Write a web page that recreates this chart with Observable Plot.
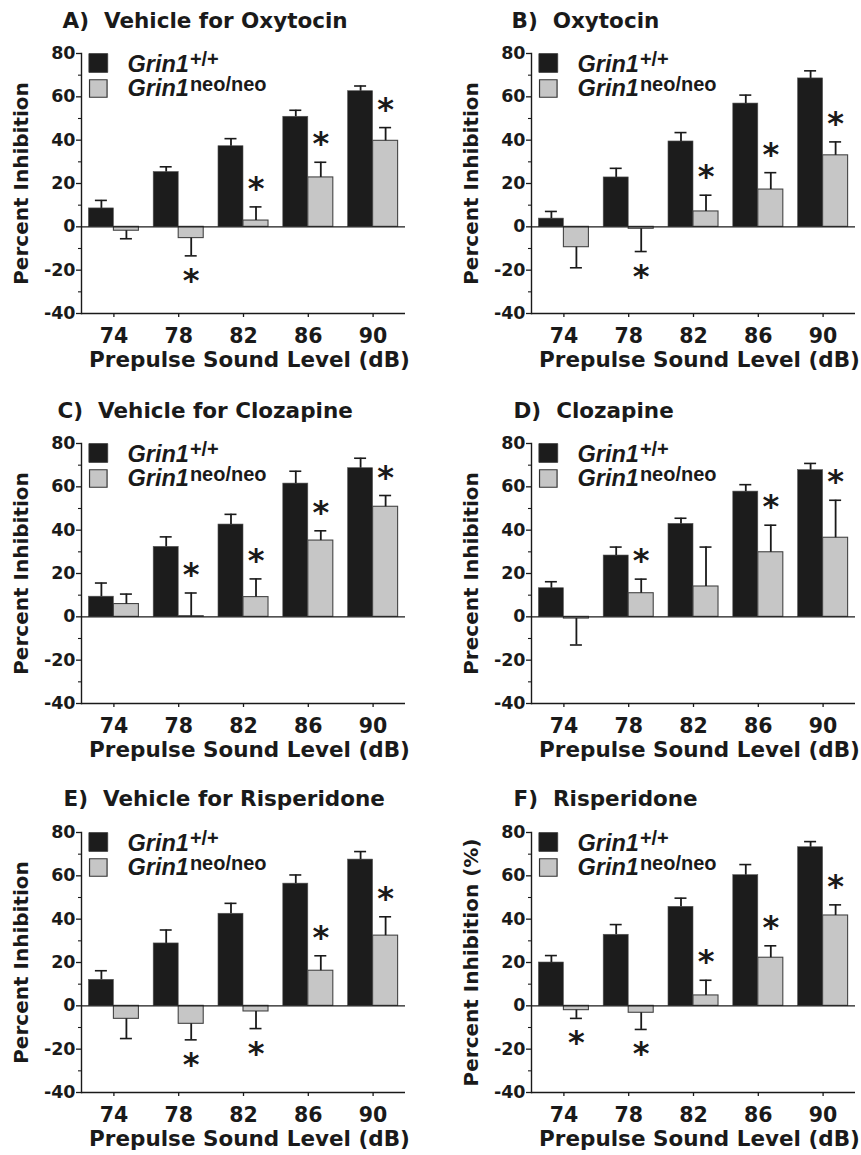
<!DOCTYPE html>
<html><head><meta charset="utf-8">
<script src="https://cdn.jsdelivr.net/npm/d3@7"></script>
<script src="https://cdn.jsdelivr.net/npm/@observablehq/plot@0.6"></script>
<style>
body{margin:0;background:#fff;}
#root{position:relative;width:861px;height:1155px;overflow:hidden;}
.panel{position:absolute;}
</style></head><body><div id="root"></div>
<script>
// ---------- data ----------
const levels = ["74", "78", "82", "86", "90"];
const panelTitles = ["A)\u00a0 Vehicle for Oxytocin", "B)\u00a0 Oxytocin", "C)\u00a0 Vehicle for Clozapine",
  "D)\u00a0 Clozapine", "E)\u00a0 Vehicle for Risperidone", "F)\u00a0 Risperidone"];
const yLabels = ["Percent Inhibition", "Percent Inhibition", "Percent Inhibition",
  "Precent Inhibition", "Percent Inhibition", "Percent Inhibition (%)"];
const xLabel = "Prepulse Sound Level (dB)";
const yTicks = [-40, -20, 0, 20, 40, 60, 80];
const yMinorTicks = [-30, -10, 10, 30, 50, 70];
const seriesBase = "Grin1";
const seriesSup = ["+/+", "neo/neo"];

// Grin1+/+ means and SEM; Grin1neo/neo means and SEM; significance stars (1 above, -1 below, 0 none)
const wtA = [8.5, 25.3, 37.2, 50.8, 62.6];
const wtErrA = [3.7, 2.4, 3.5, 3.0, 2.4];
const neoA = [-1.8, -5.2, 2.9, 22.8, 39.7];
const neoErrA = [3.7, 8.2, 6.3, 7.0, 6.1];
const starsA = [0, -1, 1, 1, 1];

const wtB = [3.8, 22.8, 39.4, 56.9, 68.5];
const wtErrB = [3.3, 4.2, 4.1, 3.9, 3.5];
const neoB = [-9.4, -0.9, 7.1, 17.2, 33.0];
const neoErrB = [9.5, 10.5, 7.5, 7.8, 6.2];
const starsB = [0, -1, 1, 1, 1];

const wtC = [9.3, 32.3, 42.6, 61.5, 68.6];
const wtErrC = [6.3, 4.6, 4.7, 5.7, 4.6];
const neoC = [5.9, 0.3, 9.1, 35.2, 50.8];
const neoErrC = [4.6, 10.7, 8.4, 4.5, 5.2];
const starsC = [0, 1, 1, 1, 1];

const wtD = [13.2, 28.3, 42.9, 57.8, 67.7];
const wtErrD = [3.0, 3.9, 2.6, 3.2, 3.1];
const neoD = [-0.8, 10.9, 14.0, 29.8, 36.5];
const neoErrD = [12.2, 6.5, 18.2, 12.5, 17.3];
const starsD = [0, 1, 0, 1, 1];

const wtE = [12.0, 28.8, 42.5, 56.4, 67.5];
const wtErrE = [4.2, 6.2, 4.8, 4.0, 3.7];
const neoE = [-6.0, -8.3, -2.6, 16.2, 32.4];
const neoErrE = [9.1, 7.4, 7.9, 6.9, 8.7];
const starsE = [0, -1, -1, 1, 1];

const wtF = [20.0, 32.8, 45.7, 60.3, 73.2];
const wtErrF = [3.2, 4.7, 4.0, 4.9, 2.6];
const neoF = [-2.0, -3.2, 4.8, 22.2, 41.7];
const neoErrF = [3.8, 7.7, 7.0, 5.5, 4.9];
const starsF = [-1, -1, 1, 1, 1];

const panelData = [
  [wtA, wtErrA, neoA, neoErrA, starsA],
  [wtB, wtErrB, neoB, neoErrB, starsB],
  [wtC, wtErrC, neoC, neoErrC, starsC],
  [wtD, wtErrD, neoD, neoErrD, starsD],
  [wtE, wtErrE, neoE, neoErrE, starsE],
  [wtF, wtErrF, neoF, neoErrF, starsF]
];

// ---------- layout ----------
const layout = [
  {left: 0,   top: 0,   w: 430, h: 385, ml: 81,  mt: 53, tdx: -19, tdy: -26},
  {left: 430, top: 0,   w: 431, h: 385, ml: 101, mt: 53, tdx: -20, tdy: -26},
  {left: 0,   top: 385, w: 430, h: 385, ml: 81,  mt: 58, tdx: -24, tdy: -26},
  {left: 430, top: 385, w: 431, h: 385, ml: 101, mt: 58, tdx: -18, tdy: -26},
  {left: 0,   top: 770, w: 430, h: 385, ml: 81,  mt: 62, tdx: -18, tdy: -27},
  {left: 430, top: 770, w: 431, h: 385, ml: 101, mt: 62, tdx: -18, tdy: -27}
];
const frameW = 324, frameH = 260;
const padIn = 0.228, padOut = 0.114;
const step = frameW / (levels.length - padIn + 2 * padOut);
const hb = step * (1 - padIn) / 2;   // width of one bar
const capHalf = 6;
const ink = "#1a1a1a";
const legendFont = "'Liberation Sans', Arial, sans-serif";

const canvas = document.createElement("canvas");
const ctx = canvas.getContext("2d");
ctx.font = "italic bold 23.5px 'Liberation Sans'";
const baseW = ctx.measureText(seriesBase).width;

const root = document.getElementById("root");

panelData.forEach(([wt, wtErr, neo, neoErr, stars], k) => {
  const L = layout[k];
  const data = levels.map((level, i) => ({
    level, wt: wt[i], neo: neo[i],
    wtTip: wt[i] + Math.sign(wt[i] || 1) * wtErr[i],
    neoTip: neo[i] + Math.sign(neo[i] || 1) * neoErr[i],
    star: stars[i]
  }));
  const plot = Plot.plot({
    width: L.w, height: L.h,
    marginLeft: L.ml, marginTop: L.mt,
    marginRight: L.w - L.ml - frameW,
    marginBottom: L.h - L.mt - frameH,
    style: {fontFamily: "'DejaVu Sans'", fontWeight: "bold", color: ink, background: "transparent", overflow: "visible"},
    x: {type: "band", domain: levels, paddingInner: padIn, paddingOuter: padOut, round: false},
    y: {domain: [-40, 80]},
    marks: [
      Plot.barY(data, {x: "level", y: "wt", insetRight: hb, fill: "#1c1c1c", stroke: "#555", strokeWidth: 0.6}),
      Plot.barY(data, {x: "level", y: "neo", insetLeft: hb, fill: "#c6c6c6", stroke: "#444", strokeWidth: 1.1}),
      Plot.ruleX(data, {x: "level", y1: "wt", y2: "wtTip", dx: -hb / 2, stroke: ink, strokeWidth: 1.8}),
      Plot.ruleX(data, {x: "level", y1: "neo", y2: "neoTip", dx: hb / 2, stroke: ink, strokeWidth: 1.8}),
      Plot.tickY(data, {x: "level", y: "wtTip", insetLeft: hb / 2 - capHalf, insetRight: 1.5 * hb - capHalf, stroke: ink, strokeWidth: 1.6}),
      Plot.tickY(data, {x: "level", y: "neoTip", insetLeft: 1.5 * hb - capHalf, insetRight: hb / 2 - capHalf, stroke: ink, strokeWidth: 1.6}),
      Plot.ruleY([0], {stroke: ink, strokeWidth: 1.4}),
      Plot.ruleY([-40], {stroke: ink, strokeWidth: 1.4}),
      Plot.frame({anchor: "left", stroke: ink, strokeWidth: 1.4}),
      Plot.axisY({ticks: yTicks, tickSize: 5, tickPadding: 1, fontSize: 17.5, label: null, tickFormat: d => `${d}`, stroke: ink, strokeWidth: 1.3}),
      Plot.axisY({ticks: yMinorTicks, tickSize: 3, tickPadding: 1, label: null, tickFormat: () => "", stroke: ink, strokeWidth: 1.1}),
      Plot.axisX({tickSize: 4, tickPadding: 11, fontSize: 20.5, label: null, stroke: ink, strokeWidth: 1.3}),
      Plot.text([xLabel], {frameAnchor: "bottom", lineAnchor: "bottom", dx: 6, dy: 53, fontSize: 21.5, fill: ink}),
      Plot.text([yLabels[k]], {frameAnchor: "left", rotate: -90, lineAnchor: "top", textAnchor: "middle", dx: -68, fontSize: 20, fill: ink}),
      Plot.text([panelTitles[k]], {frameAnchor: "top-left", textAnchor: "start", lineAnchor: "bottom", dx: L.tdx, dy: L.tdy, fontSize: 21.5, fill: ink}),
      // significance stars
      Plot.text(data.filter(d => d.star === 1), {x: "level", y: "neoTip", text: () => "*", dx: hb / 2, dy: -8, lineAnchor: "bottom", fontSize: 32, fill: ink}),
      Plot.text(data.filter(d => d.star === -1), {x: "level", y: "neoTip", text: () => "*", dx: hb / 2, dy: 35, lineAnchor: "bottom", fontSize: 32, fill: ink}),
      // legend
      Plot.dot([seriesSup[0]], {frameAnchor: "top-left", dx: 16.8, dy: 9.5, symbol: "square", r: 10.6, fill: "#1c1c1c", stroke: "#333", strokeWidth: 0.8}),
      Plot.dot([seriesSup[1]], {frameAnchor: "top-left", dx: 16.8, dy: 35, symbol: "square", r: 9.9, fill: "#c6c6c6", stroke: "#333", strokeWidth: 1.2}),
      Plot.text([seriesBase], {frameAnchor: "top-left", textAnchor: "start", lineAnchor: "bottom", dx: 46, dy: 18.5, fontSize: 23.5, fontStyle: "italic", fontWeight: "bold", fontFamily: legendFont, fill: ink}),
      Plot.text([seriesSup[0]], {frameAnchor: "top-left", textAnchor: "start", lineAnchor: "bottom", dx: 46 + baseW + 1, dy: 12, fontSize: 20, fontWeight: "bold", fontFamily: legendFont, fill: ink}),
      Plot.text([seriesBase], {frameAnchor: "top-left", textAnchor: "start", lineAnchor: "bottom", dx: 46, dy: 42.5, fontSize: 23.5, fontStyle: "italic", fontWeight: "bold", fontFamily: legendFont, fill: ink}),
      Plot.text([seriesSup[1]], {frameAnchor: "top-left", textAnchor: "start", lineAnchor: "bottom", dx: 46 + baseW + 1, dy: 37, fontSize: 20, fontWeight: "bold", fontFamily: legendFont, fill: ink})
    ]
  });
  const div = document.createElement("div");
  div.className = "panel";
  div.style.left = L.left + "px";
  div.style.top = L.top + "px";
  div.appendChild(plot);
  root.appendChild(div);
});
</script></body></html>
